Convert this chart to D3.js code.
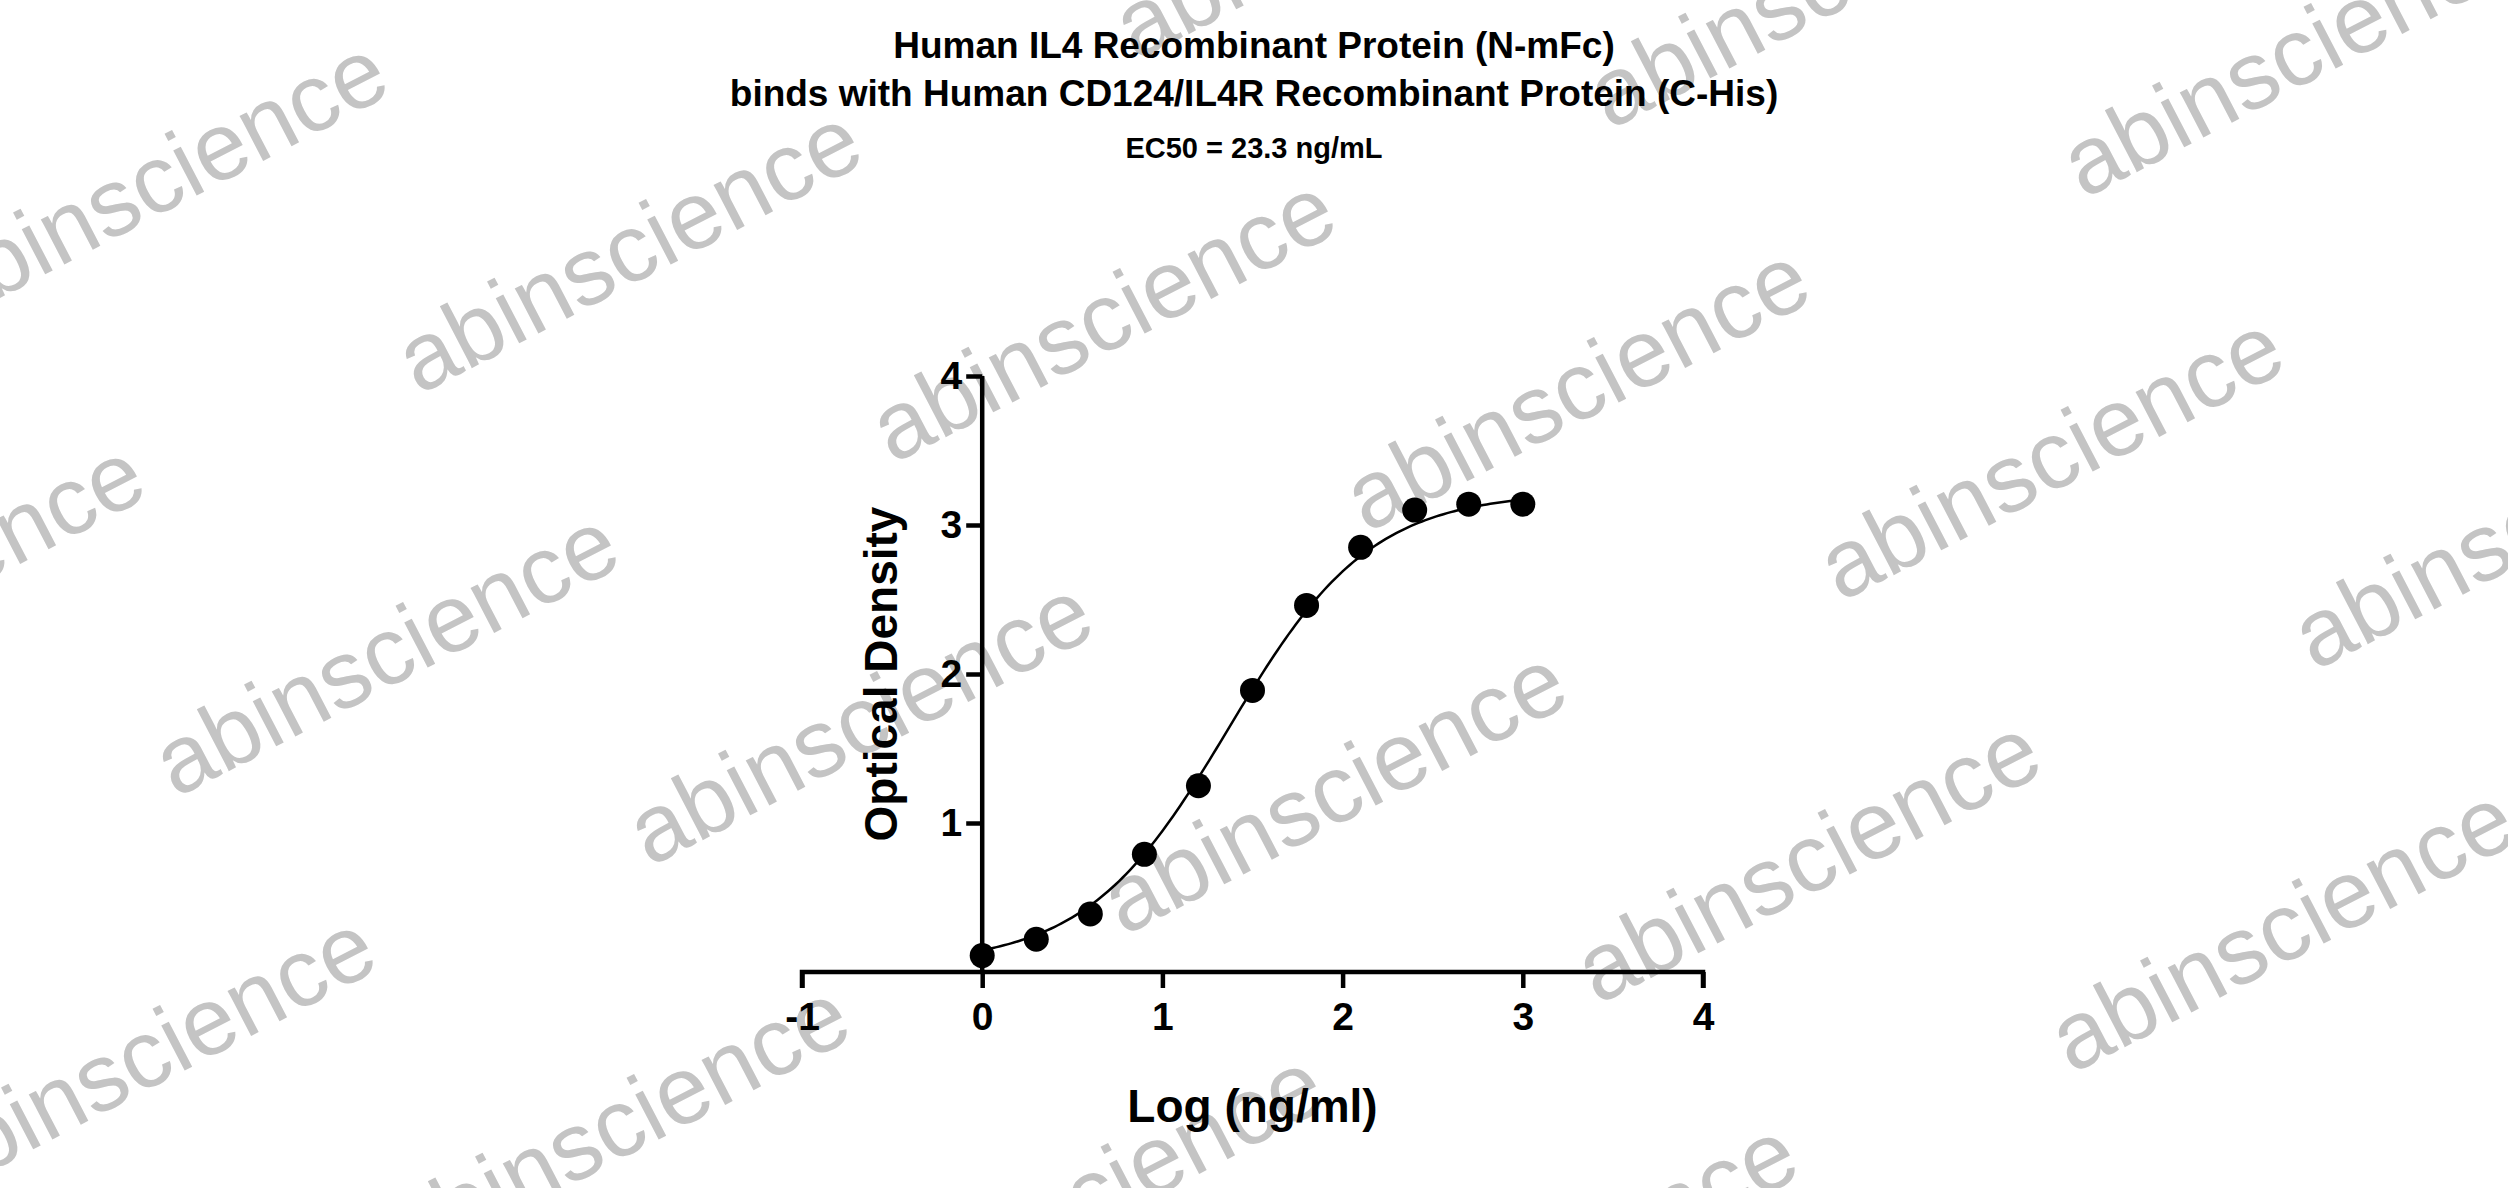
<!DOCTYPE html>
<html><head><meta charset="utf-8">
<script src="https://cdn.jsdelivr.net/npm/d3@7"></script>
<style>body{margin:0;background:#fff}svg{display:block}</style>
</head><body><div id="okvir"></div>
<script>
const logConc = [0, 0.3, 0.6, 0.9, 1.2, 1.5, 1.8, 2.1, 2.4, 2.7, 3.0]
const od = [0.11, 0.22, 0.39, 0.79, 1.25, 1.89, 2.46, 2.85, 3.10, 3.14, 3.14]
const xTicks = [-1, 0, 1, 2, 3, 4]
const yTicks = [1, 2, 3, 4]
const titleLines = ["Human IL4 Recombinant Protein (N-mFc)", "binds with Human CD124/IL4R Recombinant Protein (C-His)"]
const subTitle = "EC50 = 23.3 ng/mL"
// 4PL fit parameters
const fit = {bottom: 0.05, top: 3.22, logEC50: Math.log10(23.3), hill: 1.1}

const W = 2508, H = 1188
const svg = d3.select("#okvir").append("svg").attr("width", W).attr("height", H)
const font = "'Liberation Sans', Arial, sans-serif"

// watermark
const wm = svg.append("g")
for (let i = -3; i <= 6; i++) {
  for (let j = -2; j <= 4; j++) {
    const cx = 632 + i * 474 - j * 243
    const cy = 256 + i * 69 + j * 403
    if (cx < -400 || cx > W + 400 || cy < -200 || cy > H + 200) continue
    wm.append("text")
      .attr("transform", `translate(${cx},${cy}) rotate(-27.5)`)
      .attr("text-anchor", "middle").attr("dominant-baseline", "middle")
      .attr("font-family", font).attr("font-size", 96).attr("fill", "#c4c4c4")
      .text("abinscience")
  }
}

const xSkala = d3.scaleLinear().domain([-1, 4]).range([802, 1703])
const ySkala = d3.scaleLinear().domain([0, 4]).range([972, 376])

const xOs = svg.append("g").attr("transform", `translate(0,${ySkala(0)})`)
  .call(d3.axisBottom(xSkala).tickValues(xTicks).tickFormat(d3.format("d")).tickSize(16).tickPadding(14))
const yOs = svg.append("g").attr("transform", `translate(${xSkala(0)},0)`)
  .call(d3.axisLeft(ySkala).tickValues(yTicks).tickFormat(d3.format("d")).tickSize(16).tickPadding(4))
for (const os of [xOs, yOs]) {
  os.select(".domain").attr("stroke-width", 4.5)
  os.selectAll(".tick line").attr("stroke-width", 4.5)
  os.selectAll(".tick text").attr("font-family", font).attr("font-weight", "bold")
    .attr("font-size", 39).attr("fill", "#000")
}
xOs.selectAll(".tick text").text(d => d < 0 ? "-" + Math.abs(d) : d)
yOs.select(".domain").attr("d", `M0,${ySkala(4)}V${ySkala(0)}`)
xOs.select(".domain").attr("d", `M${xSkala(-1)},16V0H${xSkala(4)}V16`)

// curve
const curveX = d3.range(0, 3.001, 0.02)
const f = x => fit.bottom + (fit.top - fit.bottom) / (1 + Math.pow(10, (fit.logEC50 - x) * fit.hill))
svg.append("path")
  .attr("d", d3.line().x(d => xSkala(d)).y(d => ySkala(f(d)))(curveX))
  .attr("fill", "none").attr("stroke", "#000").attr("stroke-width", 2.5)

svg.selectAll("circle.pt").data(logConc).join("circle")
  .attr("cx", d => xSkala(d)).attr("cy", (d, i) => ySkala(od[i]))
  .attr("r", 12.5).attr("fill", "#000")

// labels
svg.append("text").attr("x", (xSkala(-1) + xSkala(4)) / 2).attr("y", 1122)
  .attr("text-anchor", "middle").attr("font-family", font)
  .attr("font-weight", "bold").attr("font-size", 46).text("Log (ng/ml)")
svg.append("text").attr("transform", `translate(${897},${ySkala(2)}) rotate(-90)`)
  .attr("text-anchor", "middle").attr("font-family", font)
  .attr("font-weight", "bold").attr("font-size", 46).text("Optical Density")

titleLines.forEach((t, i) => svg.append("text").attr("x", 1254).attr("y", 58 + i * 48)
  .attr("text-anchor", "middle").attr("font-family", font).attr("font-weight", "bold")
  .attr("font-size", 37).text(t))
svg.append("text").attr("x", 1254).attr("y", 158).attr("text-anchor", "middle")
  .attr("font-family", font).attr("font-weight", "bold").attr("font-size", 29).text(subTitle)
</script></body></html>
